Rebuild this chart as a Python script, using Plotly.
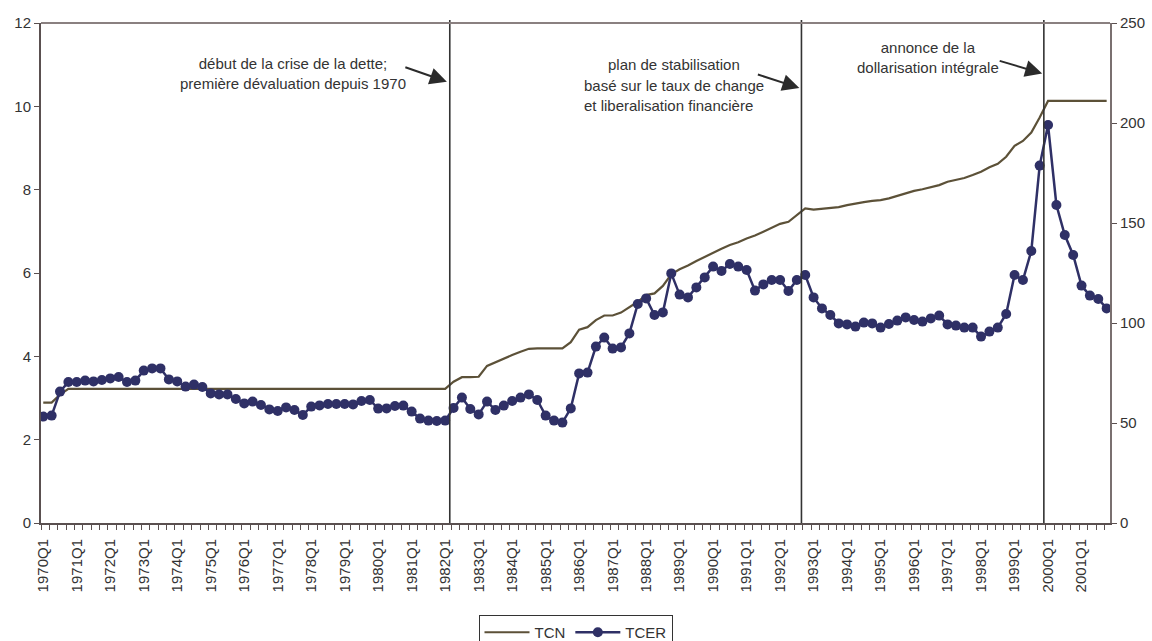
import plotly.graph_objects as go

# quarterly categories 1970Q1 .. 2001Q4
quarters = [f"{y}Q{q}" for y in range(1970, 2002) for q in range(1, 5)]

# nominal exchange rate (log), left axis
tcn = [2.89, 2.89, 3.08, 3.22, 3.22, 3.22, 3.22, 3.22, 3.22, 3.22,
       3.22, 3.22, 3.22, 3.22, 3.22, 3.22, 3.22, 3.22, 3.22, 3.22,
       3.22, 3.22, 3.22, 3.22, 3.22, 3.22, 3.22, 3.22, 3.22, 3.22,
       3.22, 3.22, 3.22, 3.22, 3.22, 3.22, 3.22, 3.22, 3.22, 3.22,
       3.22, 3.22, 3.22, 3.22, 3.22, 3.22, 3.22, 3.22, 3.22, 3.39,
       3.50, 3.50, 3.51, 3.77, 3.86, 3.95, 4.03, 4.11, 4.18, 4.19,
       4.19, 4.19, 4.19, 4.34, 4.64, 4.70, 4.87, 4.98, 4.98, 5.05,
       5.17, 5.31, 5.47, 5.51, 5.69, 5.97, 6.09, 6.18, 6.29, 6.39,
       6.49, 6.58, 6.67, 6.74, 6.83, 6.90, 6.99, 7.09, 7.18, 7.23,
       7.38, 7.55, 7.52, 7.54, 7.56, 7.58, 7.63, 7.67, 7.70, 7.73,
       7.75, 7.79, 7.85, 7.91, 7.97, 8.01, 8.06, 8.11, 8.19, 8.23,
       8.28, 8.35, 8.43, 8.54, 8.62, 8.79, 9.05, 9.17, 9.37, 9.73,
       10.13, 10.13, 10.13, 10.13, 10.13, 10.13, 10.13, 10.13]

# real effective exchange rate, right axis
tcer = [53.2, 53.7, 65.7, 70.5, 70.5, 71.2, 70.8, 71.5, 72.3, 73.0,
        70.5, 71.2, 76.2, 77.3, 77.3, 71.8, 70.8, 68.2, 69.2, 68.0,
        64.8, 64.3, 64.3, 62.0, 59.8, 60.7, 59.0, 56.8, 56.0, 57.8,
        56.5, 54.0, 58.2, 58.8, 59.5, 59.5, 59.5, 59.3, 61.0, 61.5,
        57.2, 57.3, 58.5, 58.7, 55.7, 52.2, 51.2, 51.0, 51.2, 57.5,
        62.7, 57.0, 54.3, 60.7, 56.5, 58.7, 61.0, 62.7, 64.3, 61.5,
        53.7, 51.2, 50.2, 57.3, 74.8, 75.2, 88.2, 92.7, 87.2, 87.8,
        94.8, 109.5, 112.3, 104.0, 105.3, 124.8, 114.2, 112.8, 117.8, 122.8,
        128.2, 126.0, 129.5, 128.2, 126.5, 116.2, 119.3, 121.5, 121.5, 116.0,
        121.5, 124.0, 112.8, 107.3, 104.0, 99.8, 99.3, 98.2, 100.2, 99.8,
        97.7, 99.5, 101.2, 102.8, 101.5, 100.7, 102.3, 103.7, 99.3, 98.7,
        97.7, 97.7, 93.2, 95.7, 97.7, 104.5, 124.0, 121.5, 136.0, 178.7,
        199.0, 159.0, 144.0, 134.0, 118.7, 113.7, 112.0, 107.3]

# event markers, placed between quarters
event_pos = [48.55, 90.55, 119.5]

x = list(range(len(quarters)))
font = "Arial, Liberation Sans, sans-serif"
txt = "#333333"

fig = go.Figure()
fig.add_trace(go.Scatter(
    x=x, y=tcn, name="TCN", mode="lines",
    line=dict(color="#5c5138", width=2.2), yaxis="y"))
fig.add_trace(go.Scatter(
    x=x, y=tcer, name="TCER", mode="lines+markers",
    line=dict(color="#2f3066", width=2.5),
    marker=dict(color="#2f3066", size=10), yaxis="y2"))

shapes = []
for p in event_pos:
    shapes.append(dict(type="line", xref="x", yref="paper", x0=p, x1=p,
                       y0=0, y1=1.006, line=dict(color="#333333", width=1.6)))
# top border
shapes.append(dict(type="line", xref="paper", yref="paper", x0=0, x1=1,
                   y0=1, y1=1, line=dict(color="#8a8080", width=2)))

annotations = [
    dict(x=29.8, y=10.78, text="début de la crise de la dette;<br>première dévaluation depuis 1970",
         showarrow=False, align="center"),
    dict(x=75.3, y=11.01, text="plan de stabilisation", showarrow=False),
    dict(x=64.3, y=10.27, text="basé sur le taux de change<br>et liberalisation financière",
         showarrow=False, align="left", xanchor="left"),
    dict(x=105.7, y=11.18, text="annonce de la<br>dollarisation intégrale",
         showarrow=False, align="center"),
    dict(x=48.2, y=10.59, text="", showarrow=True, ax=-43, ay=-15,
         arrowhead=2, arrowsize=1.7, arrowwidth=2, arrowcolor="#2b2b2b"),
    dict(x=90.3, y=10.44, text="", showarrow=True, ax=-43, ay=-14,
         arrowhead=2, arrowsize=1.7, arrowwidth=2, arrowcolor="#2b2b2b"),
    dict(x=119.3, y=10.79, text="", showarrow=True, ax=-44, ay=-13,
         arrowhead=2, arrowsize=1.7, arrowwidth=2, arrowcolor="#2b2b2b"),
]
for a in annotations:
    a.setdefault("xref", "x")
    a.setdefault("yref", "y")
    a["font"] = dict(family=font, size=15, color=txt)

fig.update_layout(
    width=1152, height=641,
    margin=dict(l=41, r=42, t=23, b=118, autoexpand=False),
    paper_bgcolor="white", plot_bgcolor="white",
    font=dict(family=font, size=15, color=txt),
    showlegend=True,
    legend=dict(orientation="h", x=0.5, xanchor="center", y=-0.184, yanchor="top",
                bordercolor="#333333", borderwidth=1, font=dict(size=15),
                itemwidth=45, tracegroupgap=0),
    xaxis=dict(
        range=[-0.27, 127.4], showgrid=False, zeroline=False, automargin=False,
        showline=True, linecolor="#5a5050", linewidth=2,
        tickmode="array", tickvals=x[::4], ticktext=quarters[::4],
        tickangle=-90, ticks="outside", ticklen=8, tickcolor="rgba(0,0,0,0)",
        tickfont=dict(size=15),
        minor=dict(tickmode="linear", tick0=-0.27, dtick=1, ticks="outside",
                   ticklen=5, tickcolor="#5a5050", tickwidth=1, showgrid=False),
    ),
    yaxis=dict(
        range=[0, 12], dtick=2, showgrid=False, zeroline=False, automargin=False,
        showline=True, linecolor="#5a5050", linewidth=2,
        ticks="outside", ticklen=5, tickcolor="#5a5050", tickfont=dict(size=15),
    ),
    yaxis2=dict(
        range=[0, 250], dtick=50, overlaying="y", side="right", automargin=False,
        showgrid=False, zeroline=False,
        showline=True, linecolor="#7a7070", linewidth=2,
        ticks="outside", ticklen=5, tickcolor="#5a5050", tickfont=dict(size=15),
    ),
    shapes=shapes,
    annotations=annotations,
)

# the page's default body margin would shift the fixed-size figure
fig.write_html("out.html", config={"displayModeBar": False},
               post_script="document.body.style.margin='0';")
